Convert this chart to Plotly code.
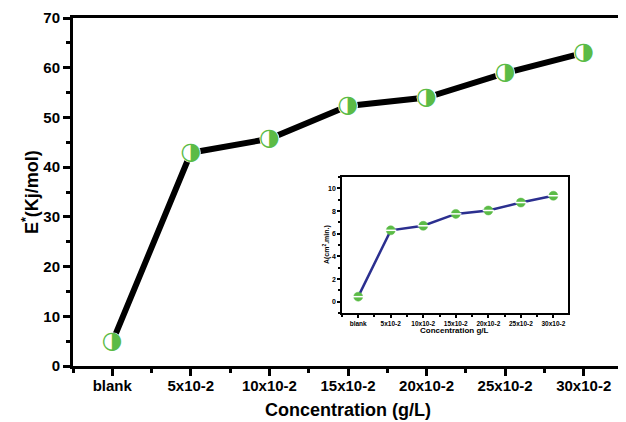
import plotly.graph_objects as go

categories = ["blank", "5x10-2", "10x10-2", "15x10-2", "20x10-2", "25x10-2", "30x10-2"]
energy = [4.8, 42.9, 45.7, 52.3, 54.0, 58.9, 63.0]
inset_rate = [0.45, 6.3, 6.7, 7.75, 8.05, 8.75, 9.35]
y_ticks = [0, 10, 20, 30, 40, 50, 60, 70]
inset_y_ticks = [0, 2, 4, 6, 8, 10]

xpos = list(range(len(categories)))
FONT = "Liberation Sans"
GREEN = "#5bbb46"

fig = go.Figure()
fig.add_trace(go.Scatter(x=xpos, y=energy, mode="lines",
                         line=dict(color="black", width=6), showlegend=False, hoverinfo="skip"))
fig.add_trace(go.Scatter(x=xpos, y=energy, mode="markers",
                         marker=dict(symbol="circle", size=20, color="white",
                                     line=dict(width=0)),
                         showlegend=False))
fig.add_trace(go.Scatter(x=xpos, y=energy, mode="text", text=["\u25d1"] * len(xpos),
                         textposition="middle center",
                         textfont=dict(family="DejaVu Sans", size=24, color=GREEN),
                         showlegend=False))

# inset
fig.add_trace(go.Scatter(x=xpos, y=inset_rate, mode="lines", xaxis="x2", yaxis="y2",
                         line=dict(color="#2b2f8f", width=2.5), showlegend=False))
fig.add_trace(go.Scatter(x=xpos, y=inset_rate, mode="markers", xaxis="x2", yaxis="y2",
                         marker=dict(symbol="circle", size=9, color=GREEN,
                                     line=dict(color=GREEN, width=0.5)),
                         showlegend=False))
fig.add_trace(go.Scatter(x=xpos, y=inset_rate, mode="markers", xaxis="x2", yaxis="y2",
                         marker=dict(symbol="line-ew", size=8,
                                     line=dict(color="white", width=1.5)),
                         showlegend=False))

axis_common = dict(showgrid=False, zeroline=False, showline=True, linecolor="black",
                   mirror=True, ticks="outside", tickcolor="black", automargin=False)

fig.update_layout(
    width=618, height=414,
    margin=dict(l=65, r=3, t=10, b=56),
    paper_bgcolor="white", plot_bgcolor="white",
    font=dict(family=FONT, color="black"),
    xaxis=dict(**axis_common, range=[-0.5, 6.5], tickvals=xpos, ticktext=categories,
               linewidth=3, tickwidth=3, ticklen=7, ticklabelstandoff=-3,
               tickfont=dict(size=15, family=FONT, weight="bold"),
               minor=dict(tick0=0.5, dtick=1, ticks="outside", ticklen=4, tickwidth=3,
                          tickcolor="black")),
    yaxis=dict(**axis_common, range=[0, 70], tickvals=y_ticks,
               linewidth=3, tickwidth=3, ticklen=7,
               tickfont=dict(size=15, family=FONT, weight="bold"),
               minor=dict(tick0=5, dtick=10, ticks="outside", ticklen=4, tickwidth=3,
                          tickcolor="black")),
    xaxis2=dict(**axis_common, domain=[0.489, 0.9], anchor="y2", range=[-0.5, 6.45],
                tickvals=xpos, ticktext=categories, linewidth=1.5, tickwidth=1.5, ticklen=3,
                tickfont=dict(size=6.5, family=FONT, weight="bold"),
                minor=dict(tick0=0.5, dtick=1, ticks="outside", ticklen=2, tickwidth=1.5,
                           tickcolor="black")),
    yaxis2=dict(**axis_common, domain=[0.152, 0.543], anchor="x2", range=[-1, 11],
                tickvals=inset_y_ticks, linewidth=1.5, tickwidth=1.5, ticklen=3,
                tickfont=dict(size=7, family=FONT, weight="bold"),
                minor=dict(tick0=1, dtick=2, ticks="outside", ticklen=2, tickwidth=1.5,
                           tickcolor="black")),
    annotations=[
        dict(text="<b>Concentration (g/L)</b>", xref="paper", yref="paper", x=0.5,
             y=-0.126, xanchor="center", yanchor="middle", showarrow=False,
             font=dict(size=18, family=FONT)),
        dict(text="<b>E<sup>*</sup>(Kj/mol)</b>", xref="paper", yref="paper", x=-0.078,
             y=0.5, xanchor="center", yanchor="middle", showarrow=False, textangle=-90,
             font=dict(size=18, family=FONT)),
        dict(text="<b>Concentration g/L</b>", xref="paper", yref="paper", x=0.6945,
             y=0.103, xanchor="center", yanchor="middle", showarrow=False,
             font=dict(size=8, family=FONT)),
        dict(text="<b>A(cm<sup>2</sup>.min.)</b>", xref="paper", yref="paper", x=0.46,
             y=0.3475, xanchor="center", yanchor="middle", showarrow=False, textangle=-90,
             font=dict(size=7, family=FONT)),
    ],
)

fig.write_html("out.html")
